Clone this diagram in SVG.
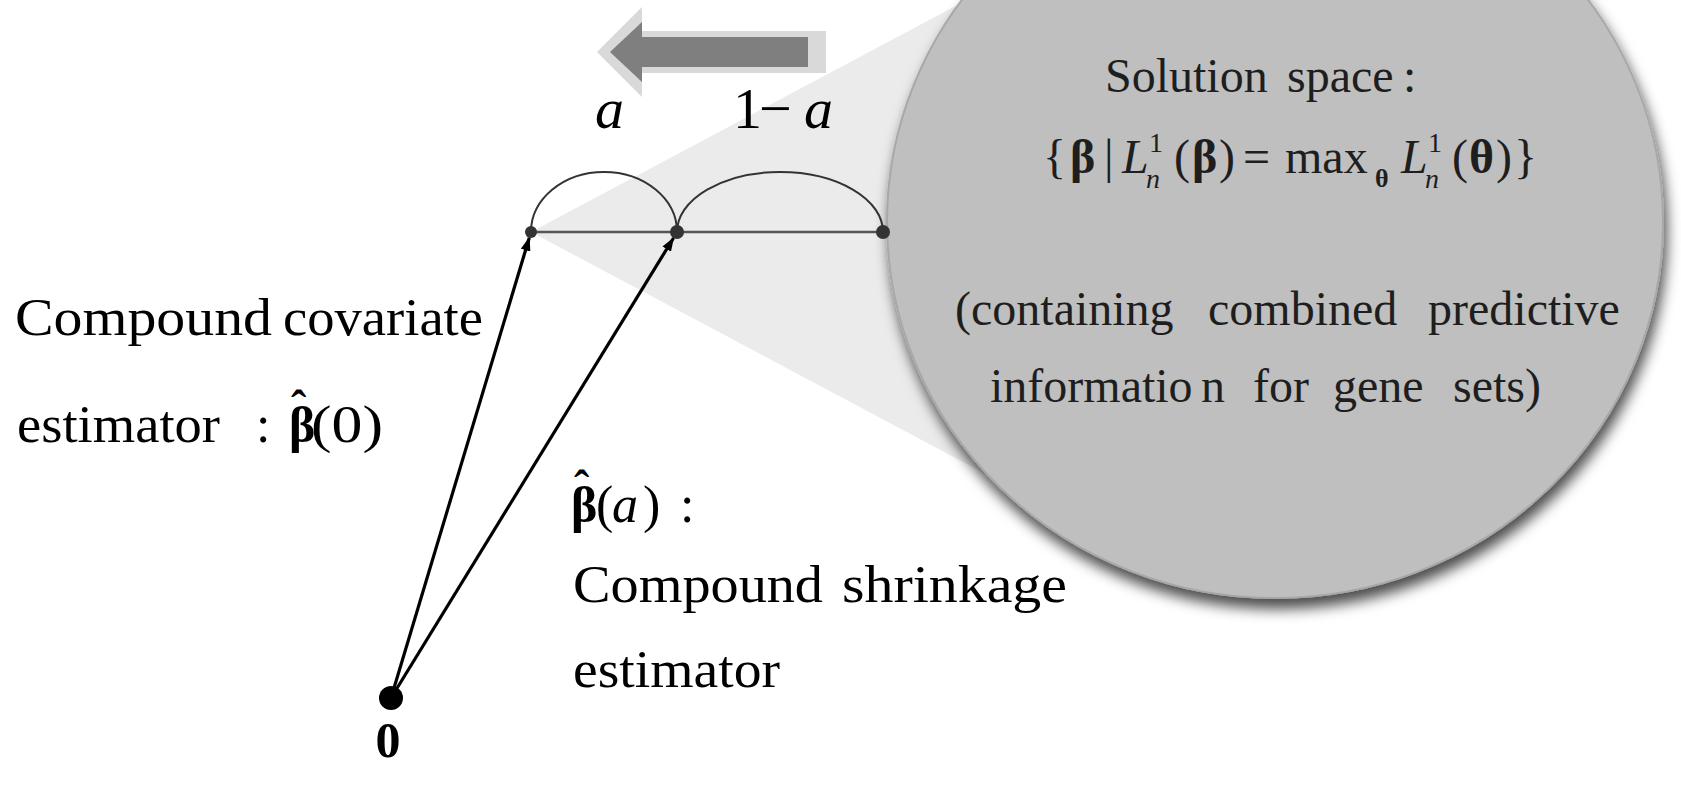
<svg xmlns="http://www.w3.org/2000/svg" width="1681" height="787" viewBox="0 0 1681 787">
<style>
.t{font-family:"Liberation Serif","Times New Roman",serif;fill:#000}
.e{font-family:"Liberation Serif","Times New Roman",serif;font-size:48px;fill:#1e1e1e}
.l{font-size:52px}
.b{font-weight:bold}
.i{font-style:italic}
.conn{stroke:#000;stroke-width:3.2;fill:none}
.dot{fill:#333}
</style>
<defs>
<marker id="ah" viewBox="0 0 14 10" refX="13" refY="5" markerWidth="14" markerHeight="10" markerUnits="userSpaceOnUse" orient="auto">
<path d="M0,0 L14,5 L0,10 z" fill="#000"/>
</marker>
<filter id="sh" x="-10%" y="-10%" width="125%" height="130%">
<feGaussianBlur in="SourceAlpha" stdDeviation="7"/>
<feOffset dx="3" dy="10" result="b"/>
<feFlood flood-color="#000" flood-opacity="0.7"/>
<feComposite in2="b" operator="in"/>
<feMerge><feMergeNode/><feMergeNode in="SourceGraphic"/></feMerge>
</filter>
</defs>
<rect width="1681" height="787" fill="#fff"/>

<g id="wedge">
<polygon points="531,232 1010,-23 1010,487" fill="#ebebeb"/>
</g>

<g id="solution-space">
<ellipse cx="1275" cy="222" rx="388" ry="376" fill="#bfbfbf" stroke="#a8a8a8" stroke-width="2" filter="url(#sh)"/>
<text class="e" y="92"><tspan x="1105">Solution</tspan><tspan x="1287">space</tspan><tspan x="1403">:</tspan></text>
<text class="e" y="173">
<tspan x="1043">{</tspan>
<tspan x="1070" class="b">β</tspan>
<tspan x="1104">|</tspan>
<tspan x="1122" class="i">L</tspan>
<tspan x="1149" y="152" font-size="28">1</tspan>
<tspan x="1146" y="188" font-size="28" class="i">n</tspan>
<tspan x="1174" y="173">(</tspan>
<tspan x="1192" class="b">β</tspan>
<tspan x="1219">)</tspan>
<tspan x="1243">=</tspan>
<tspan x="1285">max</tspan>
<tspan x="1375" y="187" font-size="26" class="b">θ</tspan>
<tspan x="1401" y="173" class="i">L</tspan>
<tspan x="1428" y="152" font-size="28">1</tspan>
<tspan x="1425" y="188" font-size="28" class="i">n</tspan>
<tspan x="1452" y="173">(</tspan>
<tspan x="1469" class="b">θ</tspan>
<tspan x="1496">)</tspan>
<tspan x="1514">}</tspan>
</text>
<text class="e" y="325"><tspan x="955">(containing</tspan><tspan x="1208">combined</tspan><tspan x="1428">predictive</tspan></text>
<text class="e" y="402"><tspan x="990">informatio</tspan><tspan x="1201">n</tspan><tspan x="1253">for</tspan><tspan x="1333">gene</tspan><tspan x="1453">sets)</tspan></text>
</g>

<g id="direction-arrow">
<polygon points="597,52 642,7 642,31 826,31 826,73 642,73 642,97" fill="#d9d9d9"/>
<polygon points="610,52 642,22 642,37 808,37 808,67 642,67 642,82" fill="#7f7f7f"/>
</g>

<g id="segment">
<line x1="531" y1="232" x2="883" y2="232" stroke="#555" stroke-width="2.5"/>
<path d="M531,232 A73,60 0 0 1 677,232" fill="none" stroke="#333" stroke-width="2"/>
<path d="M677,232 A103,60 0 0 1 883,232" fill="none" stroke="#333" stroke-width="2"/>
<text class="t i" font-size="58" x="595" y="128">a</text>
<text class="t" font-size="58" y="128"><tspan x="733">1</tspan><tspan x="759">−</tspan><tspan x="804" class="i">a</tspan></text>
</g>

<g id="point-beta0"><circle class="dot" cx="531" cy="232" r="6"/></g>
<g id="point-beta-a"><circle class="dot" cx="677" cy="232" r="7"/></g>
<g id="point-end"><circle class="dot" cx="883" cy="232" r="7"/></g>

<g id="origin">
<circle cx="391" cy="698" r="12" fill="#000"/>
<text class="t b" font-size="50" x="388" y="757" text-anchor="middle">0</text>
</g>

<g id="connectors">
<line class="conn" x1="391" y1="698" x2="529.3" y2="237.7" marker-end="url(#ah)"/>
<line class="conn" x1="391" y1="698" x2="673.5" y2="238" marker-end="url(#ah)"/>
</g>

<g id="label-covariate">
<text class="t l" y="335"><tspan x="15" textLength="257" lengthAdjust="spacingAndGlyphs">Compound</tspan><tspan x="283" textLength="200" lengthAdjust="spacingAndGlyphs">covariate</tspan></text>
<text class="t l" y="442"><tspan x="17" textLength="203" lengthAdjust="spacingAndGlyphs">estimator</tspan><tspan x="256">:</tspan><tspan x="289" class="b" font-size="50">β</tspan><tspan x="291" y="422" class="b" font-size="46">ˆ</tspan><tspan x="311" y="442" textLength="72" lengthAdjust="spacingAndGlyphs">(0)</tspan></text>
</g>

<g id="label-shrinkage">
<text class="t l" y="522"><tspan x="571" class="b" font-size="50">β</tspan><tspan x="574" y="502" class="b" font-size="46">ˆ</tspan><tspan x="596" y="522">(</tspan><tspan x="612" class="i">a</tspan><tspan x="643">)</tspan><tspan x="680">:</tspan></text>
<text class="t l" y="602"><tspan x="573" textLength="250" lengthAdjust="spacingAndGlyphs">Compound</tspan><tspan x="842" textLength="225" lengthAdjust="spacingAndGlyphs">shrinkage</tspan></text>
<text class="t l" y="687"><tspan x="573" textLength="207" lengthAdjust="spacingAndGlyphs">estimator</tspan></text>
</g>
</svg>
